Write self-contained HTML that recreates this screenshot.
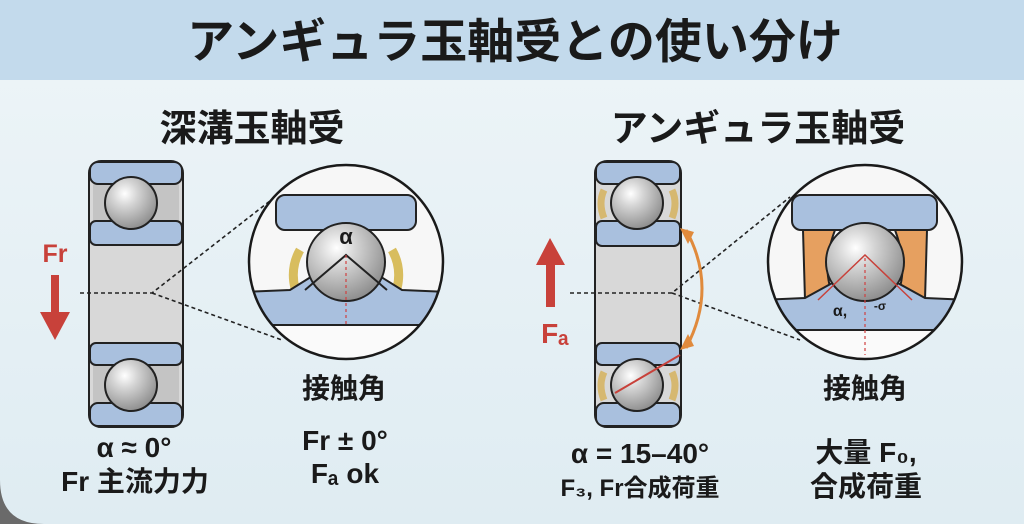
<!DOCTYPE html>
<html><head><meta charset="utf-8"><style>
html,body{margin:0;padding:0;width:1024px;height:524px;overflow:hidden;background:#e4eff4}
svg{display:block}
text{font-family:"Liberation Sans","Noto Sans CJK JP",sans-serif;font-weight:bold;fill:#1a1a1a}
</style></head><body>
<svg width="1024" height="524" viewBox="0 0 1024 524">
<defs>
<radialGradient id="ball" cx="0.38" cy="0.32" r="0.7">
<stop offset="0" stop-color="#ffffff"/><stop offset="0.35" stop-color="#d4d4d4"/><stop offset="1" stop-color="#8e8e8e"/>
</radialGradient>
<linearGradient id="bg" x1="0" y1="0" x2="0" y2="1"><stop offset="0" stop-color="#eef5f8"/><stop offset="1" stop-color="#dfecf2"/></linearGradient>
<clipPath id="c1"><circle cx="346" cy="262" r="97"/></clipPath>
<clipPath id="c2"><circle cx="865" cy="262" r="97"/></clipPath>
</defs>
<rect width="1024" height="524" fill="url(#bg)"/>
<rect width="1024" height="80" fill="#c3daec"/>
<path d="M0 480 Q0 524 44 524 L0 524 Z" fill="#6a6a6a"/>
<text x="515" y="58" font-size="47" text-anchor="middle">アンギュラ玉軸受との使い分け</text>
<text x="252" y="141" font-size="37" text-anchor="middle">深溝玉軸受</text>
<text x="758" y="141" font-size="37" text-anchor="middle">アンギュラ玉軸受</text>

<!-- Left bearing -->
<g stroke="#222" stroke-width="2">
<rect x="89" y="161" width="94" height="266" rx="12" fill="#d8d8d8"/>
<rect x="93" y="184" width="86" height="37" fill="#c4c4c4" stroke="none"/>
<rect x="93" y="365" width="86" height="38" fill="#c4c4c4" stroke="none"/>
<rect x="90" y="162" width="92" height="22" rx="8" fill="#a9c0de"/>
<rect x="90" y="221" width="92" height="24" rx="6" fill="#a9c0de"/>
<rect x="90" y="343" width="92" height="22" rx="6" fill="#a9c0de"/>
<rect x="90" y="403" width="92" height="23" rx="8" fill="#a9c0de"/>
<circle cx="131" cy="203" r="26" fill="url(#ball)"/>
<circle cx="131" cy="385" r="26" fill="url(#ball)"/>
</g>
<g stroke="#222" stroke-width="1.6" stroke-dasharray="4,3" fill="none">
<path d="M80 293 L152 293 L275 197 M152 293 L282 340"/>
</g>
<text x="55" y="262" font-size="25" text-anchor="middle" style="fill:#c8413a">Fr</text>
<rect x="51" y="275" width="8" height="40" fill="#c8413a"/>
<polygon points="40,312 70,312 55,340" fill="#c8413a"/>
<!-- Left zoom circle -->
<circle cx="346" cy="262" r="97" fill="#f7f7f7"/>
<g clip-path="url(#c1)" stroke="#222" stroke-width="2">
<rect x="276" y="195" width="140" height="35" rx="9" fill="#a9c0de"/>
<path d="M300 250 A50 50 0 0 0 300 300" stroke="#d8bd5e" stroke-width="9" fill="none"/>
<path d="M392 250 A50 50 0 0 0 392 300" transform="translate(784,0) scale(-1,1)" stroke="#d8bd5e" stroke-width="9" fill="none"/>
<path d="M240 325 L240 292 L290 290 L346 255 L402 290 L450 292 L450 325 Z" fill="#a9c0de"/>
<rect x="240" y="325" width="220" height="40" fill="#fafafa" stroke="none"/>
<line x1="240" y1="325" x2="450" y2="325"/>
<circle cx="346" cy="262" r="39" fill="url(#ball)"/>
<path d="M305 290 L346 255 L387 290" fill="none"/>
<line x1="346" y1="255" x2="346" y2="325" stroke="#d04040" stroke-width="1.2" stroke-dasharray="3,3"/>
</g>
<circle cx="346" cy="262" r="97" fill="none" stroke="#1a1a1a" stroke-width="2.5"/>
<text x="346" y="244" font-size="22" text-anchor="middle">α</text>
<text x="344" y="398" font-size="28" text-anchor="middle">接触角</text>
<text x="345" y="450" font-size="28" text-anchor="middle">Fr ± 0°</text>
<text x="345" y="483" font-size="28" text-anchor="middle">Fₐ ok</text>
<text x="134" y="457" font-size="28" text-anchor="middle">α ≈ 0°</text>
<text x="135" y="491" font-size="28" text-anchor="middle">Fr 主流力力</text>

<!-- Right bearing -->
<g stroke="#222" stroke-width="2">
<rect x="595" y="161" width="86" height="266" rx="12" fill="#d8d8d8"/>
<rect x="596" y="162" width="84" height="22" rx="8" fill="#a9c0de"/>
<rect x="596" y="221" width="84" height="25" rx="6" fill="#a9c0de"/>
<rect x="596" y="343" width="84" height="22" rx="6" fill="#a9c0de"/>
<rect x="596" y="403" width="84" height="23" rx="8" fill="#a9c0de"/>
<path d="M604 190 Q598 203 604 218 M672 190 Q678 203 672 218 M604 372 Q598 385 604 400 M672 372 Q678 385 672 400" stroke="#d6b870" stroke-width="7" fill="none"/>
<circle cx="637" cy="203" r="26" fill="url(#ball)"/>
<circle cx="637" cy="385" r="26" fill="url(#ball)"/>
</g>
<line x1="615" y1="393" x2="680" y2="355" stroke="#c8413a" stroke-width="2"/>
<g stroke="#222" stroke-width="1.6" stroke-dasharray="4,3" fill="none">
<path d="M570 293 L672 293 L790 197 M672 293 L800 340"/>
</g>
<path d="M686 230 Q718 288 686 348" stroke="#e08a3c" stroke-width="3" fill="none"/>
<polygon points="680,228 694,232 688,244" fill="#e08a3c"/>
<polygon points="680,350 694,346 688,334" fill="#e08a3c"/>
<rect x="546" y="262" width="9" height="45" fill="#c8413a"/>
<polygon points="536,265 565,265 550,238" fill="#c8413a"/>
<text x="555" y="343" font-size="28" text-anchor="middle" style="fill:#c8413a">Fₐ</text>
<!-- Right zoom -->
<circle cx="865" cy="262" r="97" fill="#f7f7f7"/>
<g clip-path="url(#c2)" stroke="#222" stroke-width="2">
<rect x="792" y="195" width="145" height="35" rx="9" fill="#a9c0de"/>
<path d="M803 230 L835 230 Q820 270 835 300 L805 300 Z" fill="#e6a060"/>
<path d="M927 230 L895 230 Q910 270 895 300 L925 300 Z" fill="#e6a060"/>
<path d="M760 330 L760 300 L805 298 L865 265 L925 298 L970 300 L970 330 Z" fill="#a9c0de"/>
<rect x="760" y="330" width="220" height="40" fill="#fafafa" stroke="none"/>
<line x1="760" y1="330" x2="970" y2="330"/>
<circle cx="865" cy="262" r="39" fill="url(#ball)"/>
<path d="M818 300 L865 255 L912 300" fill="none" stroke="#c8413a" stroke-width="1.5"/>
<line x1="865" y1="258" x2="865" y2="355" stroke="#d04040" stroke-width="1.2" stroke-dasharray="3,3"/>
</g>
<circle cx="865" cy="262" r="97" fill="none" stroke="#1a1a1a" stroke-width="2.5"/>
<text x="840" y="316" font-size="16" text-anchor="middle">α,</text>
<text x="880" y="310" font-size="12" text-anchor="middle">-σ</text>
<text x="865" y="398" font-size="28" text-anchor="middle">接触角</text>
<text x="866" y="462" font-size="28" text-anchor="middle">大量 F₀,</text>
<text x="866" y="496" font-size="28" text-anchor="middle">合成荷重</text>
<text x="640" y="463" font-size="28" text-anchor="middle">α = 15–40°</text>
<text x="640" y="496" font-size="24" text-anchor="middle">F₃, Fr合成荷重</text>
</svg>
</body></html>
